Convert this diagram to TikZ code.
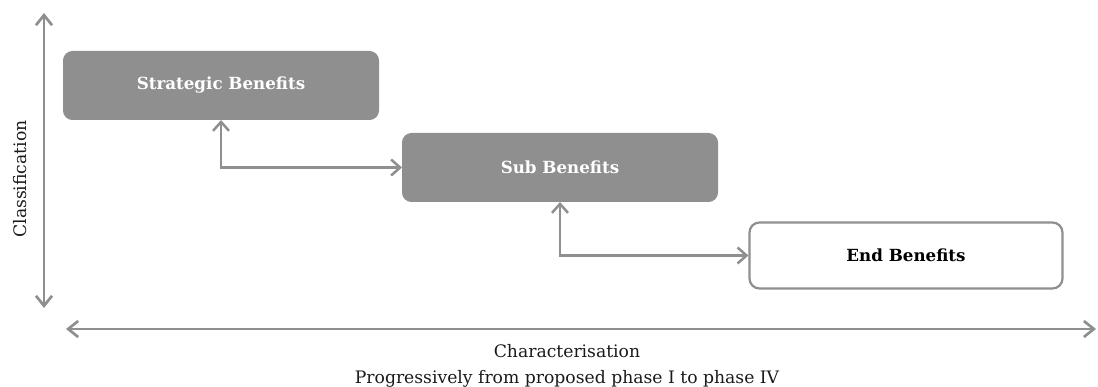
\documentclass[tikz,border=0pt]{standalone}
\usepackage{fontspec}
\setmainfont{DejaVu Serif}
\usetikzlibrary{arrows.meta}
\definecolor{linegray}{HTML}{8F8F8F}
\definecolor{boxgray}{HTML}{8F8F8F}
\definecolor{inkgray}{HTML}{1A1A1A}
\begin{document}
\begin{tikzpicture}[x=1pt,y=-1pt,
  axisline/.style={draw=linegray, line width=2.7pt, line cap=butt,
    {Straight Barb[length=10pt,width=16pt]}-{Straight Barb[length=10pt,width=16pt]}},
  link/.style={draw=linegray, line width=2.5pt,
    {Straight Barb[length=9pt,width=16pt]}-{Straight Barb[length=9pt,width=16pt]}},
  filledbox/.style={rectangle, rounded corners=9pt, fill=boxgray, draw=boxgray,
    line width=1pt, text=white, font=\fontsize{16.7}{19}\selectfont\bfseries,
    minimum width=315pt, minimum height=68pt, inner sep=0pt},
  openbox/.style={rectangle, rounded corners=10pt, fill=white, draw=linegray,
    line width=2.2pt, text=black, font=\fontsize{16.7}{19}\selectfont\bfseries,
    minimum width=313pt, minimum height=66pt, inner sep=0pt},
  axislabel/.style={text=inkgray, font=\fontsize{17.2}{20}\selectfont, inner sep=0pt}]

  \useasboundingbox (0,0) rectangle (1098,387);

  % axes
  \coordinate (ytop) at (44,13);
  \coordinate (ybot) at (44,308);
  \coordinate (xleft) at (66,329);
  \coordinate (xright) at (1096,329);
  \draw[axisline] (ytop) -- (ybot);
  \draw[axisline] (xleft) -- (xright);

  % benefit boxes
  \node[filledbox] (strat) at (221,85.5) {Strategic Benefits};
  \node[filledbox] (sub) at (560,167.5) {Sub Benefits};
  \node[openbox] (endb) at (906,255.5) {End Benefits};

  % links between levels
  \draw[link] (strat.south) |- (sub.west);
  \draw[link] (sub.south) |- (endb.west);

  % axis captions
  \node[axislabel, rotate=90] (ylab) at (20,179) {Classification};
  \node[axislabel, anchor=base] (xlab1) at (567,358) {Characterisation};
  \node[axislabel, anchor=base] (xlab2) at (567,383) {Progressively from proposed phase I to phase IV};
\end{tikzpicture}
\end{document}
